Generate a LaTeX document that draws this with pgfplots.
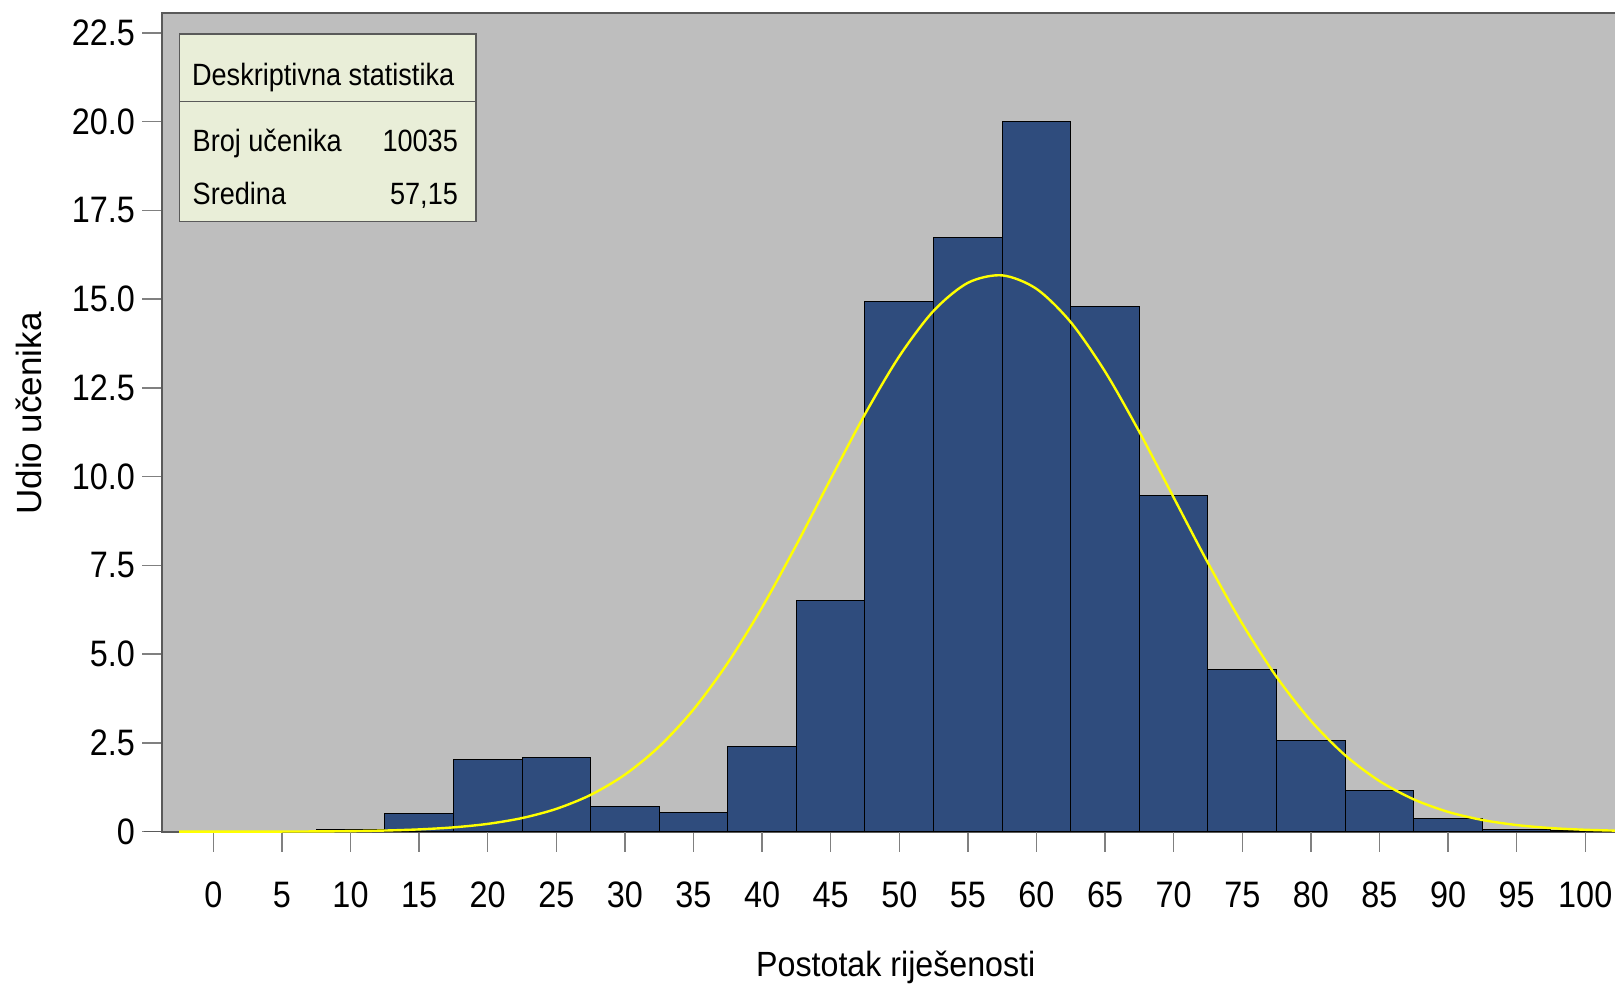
\documentclass[border=0pt]{standalone}
\usepackage{fontspec}
\setmainfont{Liberation Sans}
\newfontfamily\narrowfont{Liberation Sans}[FakeStretch=0.88]
\newfontfamily\labelfont{Liberation Sans}[FakeStretch=0.92]
\usepackage{pgfplots}
\pgfplotsset{compat=1.18}

\definecolor{plotgray}{RGB}{190,190,190}
\definecolor{barblue}{RGB}{47,76,125}
\definecolor{framegray}{RGB}{90,90,90}
\definecolor{tickgray}{RGB}{128,128,128}
\definecolor{legfill}{RGB}{233,238,216}
\definecolor{curveyellow}{RGB}{255,255,0}

\begin{document}
\begin{tikzpicture}
\useasboundingbox (0,0) rectangle (807.5pt,495pt);
\begin{axis}[
    at={(81pt,79.15pt)}, anchor=south west,
    scale only axis, width=730pt, height=409.35pt,
    xmin=-3.74, xmax=102.68, ymin=0, ymax=23.06,
    clip=false,
    axis background/.style={fill=plotgray},
    axis line style={framegray, line width=0.8pt},
    tick align=outside, major tick length=10pt,
    xtick={0,5,...,100},
    xticklabels={0,5,10,15,20,25,30,35,40,45,50,55,60,65,70,75,80,85,90,95,100},
    xtick style={tickgray, line width=0.7pt},
    extra x ticks={0,10,...,100}, extra x tick labels={},
    extra x tick style={major tick style={black, line width=0.7pt}},
    ytick={0,2.5,...,22.5},
    yticklabels={0,2.5,5.0,7.5,10.0,12.5,15.0,17.5,20.0,22.5},
    ytick style={tickgray, line width=0.7pt},
    xtick pos=bottom, ytick pos=left,
    ticklabel style={font=\narrowfont\fontsize{18.4pt}{20pt}\selectfont},
    xticklabel style={yshift=-11.7pt},
    xlabel={Postotak riješenosti},
    xlabel style={at={(axis description cs:0.5026,-0.1771)}, anchor=base,
        font=\labelfont\fontsize{17.5pt}{20pt}\selectfont},
    ylabel={Udio učenika},
    ylabel style={at={(axis description cs:-0.0824,0.5108)}, anchor=base,
        font=\fontsize{17.5pt}{20pt}\selectfont},
]
% histogram bars (percentage of students per 5-point bin)
\addplot[ybar, bar width=5, bar shift=0pt, fill=barblue, draw=black, line width=0.5pt]
coordinates {
    (0,0) (5,0) (10,0.07) (15,0.52) (20,2.02) (25,2.08) (30,0.72)
    (35,0.53) (40,2.39) (45,6.50) (50,14.93) (55,16.75) (60,20.0)
    (65,14.79) (70,9.46) (75,4.57) (80,2.58) (85,1.15) (90,0.37)
    (95,0.06) (100,0.02)};

% normal curve
\addplot[curveyellow, line width=1.2pt, smooth, mark=none]
coordinates {
    (-2.5,0.0003) (2.5,0.0015) (7.5,0.008) (10,0.016) (12.5,0.033)
    (15,0.065) (17.5,0.122) (20,0.220) (22.5,0.384) (25,0.643)
    (27.5,1.036) (30,1.607) (32.5,2.398) (35,3.443) (37.5,4.756)
    (40,6.319) (42.5,8.078) (45,9.937) (47.5,11.76) (50,13.39)
    (52.5,14.67) (55,15.46) (57.5,15.67) (60,15.29) (62.5,14.35)
    (65,12.96) (67.5,11.26) (70,9.413) (72.5,7.570) (75,5.858)
    (77.5,4.361) (80,3.124) (82.5,2.152) (85,1.427) (87.5,0.911)
    (90,0.558) (92.5,0.330) (95,0.187) (97.5,0.102) (100,0.054)
    (102.5,0.027)};
\end{axis}

% box with descriptive statistics, in pixel units of the reference
\begin{scope}[x=0.5pt, y=-0.5pt, shift={(0pt,495pt)}]
  \draw[framegray, line width=0.6pt] (144,831.7) -- (162,831.7);
  \draw[fill=legfill, draw=framegray, line width=0.7pt] (179.3,34) rectangle (476,221.7);
  \draw[framegray, line width=0.7pt] (179.3,101.7) -- (476,101.7);
  \begin{scope}[every node/.style={inner sep=0pt, font=\narrowfont\fontsize{15.4pt}{18pt}\selectfont}]
    \node[anchor=base west] at (191.7,85.7) {Deskriptivna statistika};
    \node[anchor=base west] at (192.3,151.7) {Broj učenika};
    \node[anchor=base east] at (458.3,151.7) {10035};
    \node[anchor=base west] at (192.3,205) {Sredina};
    \node[anchor=base east] at (458.3,205) {57,15};
  \end{scope}
\end{scope}
\end{tikzpicture}
\end{document}
